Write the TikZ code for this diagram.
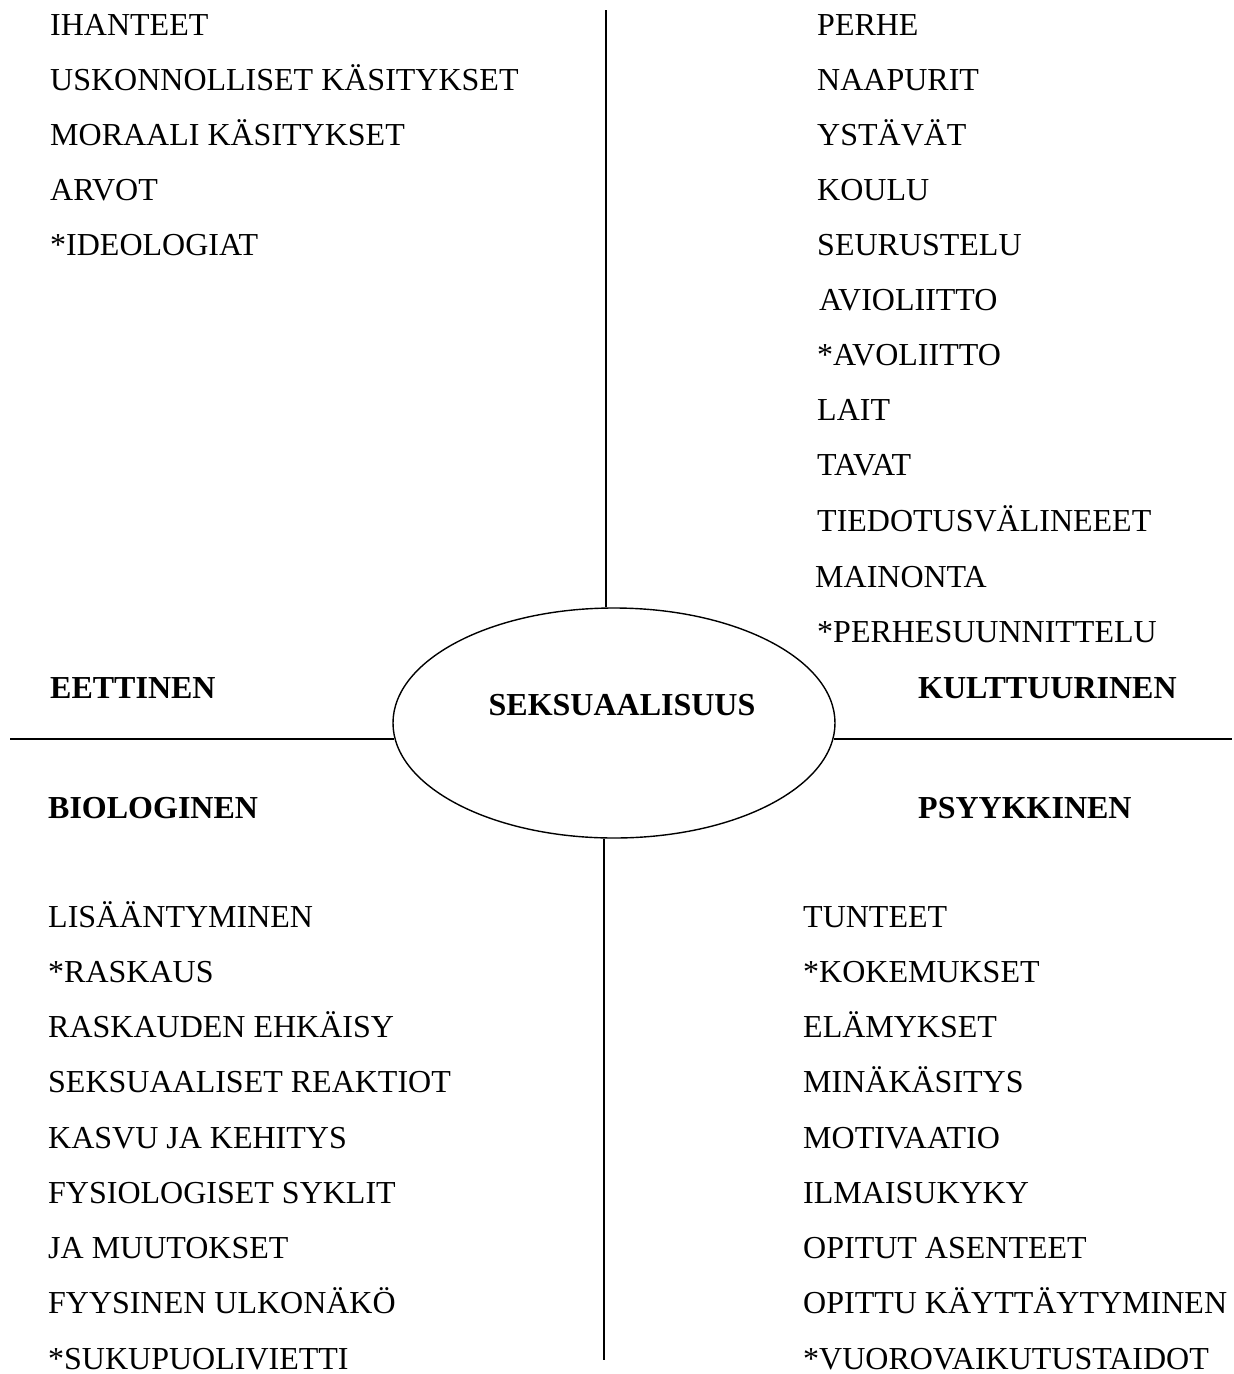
\documentclass[tikz,border=0pt]{standalone}
\usepackage{fontspec}
\setmainfont{Liberation Serif}
\usetikzlibrary{shapes.geometric}
\begin{document}
\begin{tikzpicture}[x=1pt,y=-1pt,
  item/.style={anchor=base west,inner sep=0pt,font=\fontsize{32}{38}\selectfont},
  head/.style={anchor=base west,inner sep=0pt,font=\fontsize{32}{38}\selectfont\bfseries},
  line/.style={draw=black,line width=1.4pt}]
\useasboundingbox (0,0) rectangle (1234,1374);
% centre ellipse
\node[ellipse,draw,line width=1.4pt,minimum width=442pt,minimum height=230pt,inner sep=0pt] (ell) at (614,723) {};
\node[anchor=base,inner sep=0pt,font=\fontsize{32}{38}\selectfont\bfseries] (core) at (622,715) {SEKSUAALISUUS};
% axes
\coordinate (ltop) at (606,10);
\coordinate (lbot) at (604,1360);
\coordinate (hl) at (10,739);
\coordinate (hr) at (1232,739);
\draw[line] (ltop) -- (ell.north -| ltop);
\draw[line] (ell.south -| lbot) -- (lbot);
\draw[line] (hl) -- ([xshift=2pt]ell.west |- hl);
\draw[line] ([xshift=-2pt]ell.east |- hr) -- (hr);
% top left
\node[item] (a1) at (50,35) {IHANTEET};
\node[item] (a2) at (50,90) {USKONNOLLISET KÄSITYKSET};
\node[item] (a3) at (50,145) {MORAALI KÄSITYKSET};
\node[item] (a4) at (50,200) {ARVOT};
\node[item] (a5) at (50,255) {*IDEOLOGIAT};
% top right
\node[item] (b1) at (817,35) {PERHE};
\node[item] (b2) at (817,90) {NAAPURIT};
\node[item] (b3) at (817,145) {YSTÄVÄT};
\node[item] (b4) at (817,200) {KOULU};
\node[item] (b5) at (817,255) {SEURUSTELU};
\node[item] (b6) at (819,310) {AVIOLIITTO};
\node[item] (b7) at (817,365) {*AVOLIITTO};
\node[item] (b8) at (817,420) {LAIT};
\node[item] (b9) at (817,475) {TAVAT};
\node[item] (b10) at (817,531) {TIEDOTUSVÄLINEEET};
\node[item] (b11) at (815,587) {MAINONTA};
\node[item] (b12) at (817,642) {*PERHESUUNNITTELU};
% headings
\node[head] (h1) at (50,698) {EETTINEN};
\node[head] (h2) at (918,698) {KULTTUURINEN};
\node[head] (h3) at (48,818) {BIOLOGINEN};
\node[head] (h4) at (918,818) {PSYYKKINEN};
% bottom left
\node[item] (c1) at (48,927) {LISÄÄNTYMINEN};
\node[item] (c2) at (48,982) {*RASKAUS};
\node[item] (c3) at (48,1037) {RASKAUDEN EHKÄISY};
\node[item] (c4) at (48,1092) {SEKSUAALISET REAKTIOT};
\node[item] (c5) at (48,1148) {KASVU JA KEHITYS};
\node[item] (c6) at (48,1203) {FYSIOLOGISET SYKLIT};
\node[item] (c7) at (48,1258) {JA MUUTOKSET};
\node[item] (c8) at (48,1313) {FYYSINEN ULKONÄKÖ};
\node[item] (c9) at (48,1369) {*SUKUPUOLIVIETTI};
% bottom right
\node[item] (d1) at (803,927) {TUNTEET};
\node[item] (d2) at (803,982) {*KOKEMUKSET};
\node[item] (d3) at (803,1037) {ELÄMYKSET};
\node[item] (d4) at (803,1092) {MINÄKÄSITYS};
\node[item] (d5) at (803,1148) {MOTIVAATIO};
\node[item] (d6) at (803,1203) {ILMAISUKYKY};
\node[item] (d7) at (803,1258) {OPITUT ASENTEET};
\node[item] (d8) at (803,1313) {OPITTU KÄYTTÄYTYMINEN};
\node[item] (d9) at (803,1369) {*VUOROVAIKUTUSTAIDOT};
\end{tikzpicture}
\end{document}
